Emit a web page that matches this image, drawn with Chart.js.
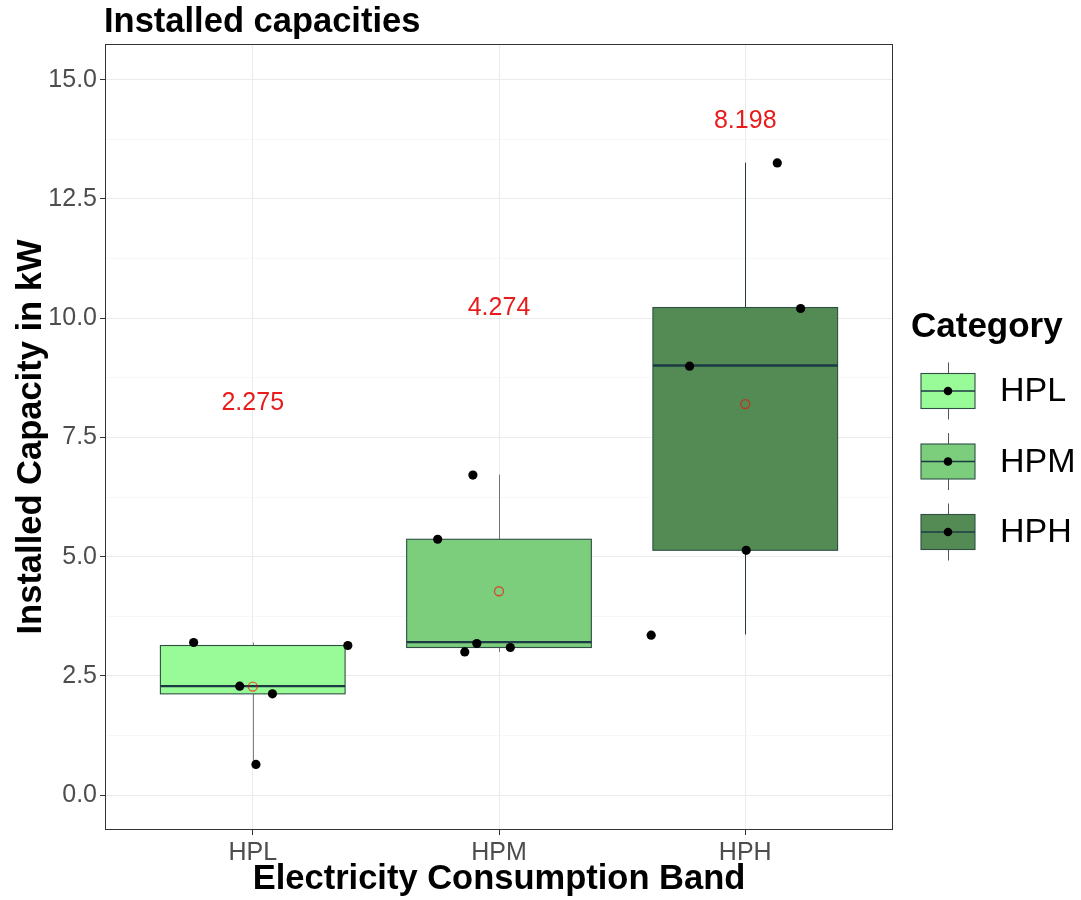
<!DOCTYPE html>
<html>
<head>
<meta charset="utf-8">
<title>Installed capacities</title>
<script src="https://cdn.jsdelivr.net/npm/chart.js@4.4.1/dist/chart.umd.min.js"></script>
<style>
  html, body { margin: 0; padding: 0; background: #fff; }
  #chart { display: block; }
</style>
</head>
<body>
<canvas id="chart" width="1081" height="900"></canvas>
<script>
// categories and box statistics
const categories = ['HPL', 'HPM', 'HPH'];
const q1 = [2.122, 3.094, 5.133];
const medians = [2.284, 3.206, 9.009];
const q3 = [3.136, 5.364, 10.224];
const whiskerLow = [0.643, 3.002, 3.367];
const whiskerHigh = [3.199, 6.719, 13.26];
const means = [2.275, 4.274, 8.198];

// jittered observations: x is the jittered category position, y the value
const hplX = [0.760, 0.947, 1.080, 1.386, 1.013];
const hplY = [3.199, 2.284, 2.122, 3.136, 0.643];
const hpmX = [1.894, 1.751, 1.910, 1.861, 2.046];
const hpmY = [6.711, 5.364, 3.178, 3.002, 3.094];
const hphX = [3.130, 3.225, 2.774, 3.004, 2.618];
const hphY = [13.256, 10.203, 8.994, 5.133, 3.352];

// axis ticks
const yTicks = [0, 2.5, 5, 7.5, 10, 12.5, 15];
const yMinorTicks = [1.25, 3.75, 6.25, 8.75, 11.25, 13.75];

// styles
const FONT = '"Liberation Sans", Arial, sans-serif';
const fillColors = ['#98FB98', '#7CCD7C', '#548B54'];
const whiskerColors = ['#7b8282', '#6f7676', '#2b3b33'];
const boxBorder = '#2f4f45';
const medianColor = '#1c3a44';
const BOX_W = 0.75;

Chart.defaults.font.family = FONT;

const obsPoints = [];
[[hplX, hplY], [hpmX, hpmY], [hphX, hphY]].forEach(([xs, ys]) => {
    xs.forEach((xv, i) => obsPoints.push({ x: xv, y: ys[i] }));
});
const meanPoints = means.map((m, i) => ({ x: i + 1, y: m }));

function isMajor(v) {
    return yTicks.some(t => Math.abs(t - v) < 1e-9);
}

function line(ctx, x1, y1, x2, y2) {
    ctx.beginPath();
    ctx.moveTo(x1, y1);
    ctx.lineTo(x2, y2);
    ctx.stroke();
}

const boxPlugin = {
    id: 'boxes',
    beforeDatasetsDraw(chart) {
        const { ctx, scales: { x, y } } = chart;
        categories.forEach((c, i) => {
            const cx = Math.round(x.getPixelForValue(i + 1)) + 0.5;
            const left = x.getPixelForValue(i + 1 - BOX_W / 2);
            const right = x.getPixelForValue(i + 1 + BOX_W / 2);
            const yQ1 = y.getPixelForValue(q1[i]);
            const yQ3 = y.getPixelForValue(q3[i]);
            const yMed = y.getPixelForValue(medians[i]);
            ctx.save();
            ctx.strokeStyle = whiskerColors[i];
            ctx.lineWidth = 1;
            line(ctx, cx, y.getPixelForValue(whiskerHigh[i]), cx, yQ3);
            line(ctx, cx, yQ1, cx, y.getPixelForValue(whiskerLow[i]));
            ctx.fillStyle = fillColors[i];
            ctx.fillRect(left, yQ3, right - left, yQ1 - yQ3);
            ctx.strokeStyle = boxBorder;
            ctx.lineWidth = 1.1;
            ctx.strokeRect(left, yQ3, right - left, yQ1 - yQ3);
            ctx.strokeStyle = medianColor;
            ctx.lineWidth = 2.4;
            line(ctx, left, yMed, right, yMed);
            ctx.restore();
        });
    },
    afterDatasetsDraw(chart) {
        const { ctx, chartArea, scales: { x, y } } = chart;
        ctx.save();
        // mean labels
        ctx.fillStyle = '#e81c1c';
        ctx.font = '25px ' + FONT;
        ctx.textAlign = 'center';
        ctx.textBaseline = 'middle';
        means.forEach((m, i) => {
            ctx.fillText(m.toFixed(3), x.getPixelForValue(i + 1), y.getPixelForValue(m + 5.94));
        });
        // panel border
        ctx.strokeStyle = '#333333';
        ctx.lineWidth = 1;
        ctx.strokeRect(Math.round(chartArea.left) + 0.5, Math.round(chartArea.top) + 0.5,
            Math.round(chartArea.right - chartArea.left) - 1, Math.round(chartArea.bottom - chartArea.top) - 1);
        ctx.restore();
    },
    afterDraw(chart) {
        const { ctx, chartArea } = chart;
        ctx.save();
        // title
        ctx.fillStyle = '#000';
        ctx.font = 'bold 34.5px ' + FONT;
        ctx.textAlign = 'left';
        ctx.textBaseline = 'alphabetic';
        ctx.fillText('Installed capacities', chartArea.left - 1, 32);

        // legend
        const lx = chartArea.right + 18;
        ctx.font = 'bold 35px ' + FONT;
        ctx.fillText('Category', lx, 337);
        const keyLeft = chartArea.right + 28;
        const keyW = 54, keyH = 35;
        categories.forEach((c, i) => {
            const cy = 391 + i * 70.5;
            const kx = keyLeft + keyW / 2;
            ctx.strokeStyle = '#555';
            ctx.lineWidth = 1;
            line(ctx, Math.round(kx) + 0.5, cy - keyH / 2 - 11, Math.round(kx) + 0.5, cy + keyH / 2 + 11);
            ctx.fillStyle = fillColors[i];
            ctx.fillRect(keyLeft, cy - keyH / 2, keyW, keyH);
            ctx.strokeStyle = boxBorder;
            ctx.lineWidth = 1.1;
            ctx.strokeRect(keyLeft, cy - keyH / 2, keyW, keyH);
            ctx.strokeStyle = medianColor;
            ctx.lineWidth = 1.6;
            line(ctx, keyLeft, cy, keyLeft + keyW, cy);
            ctx.fillStyle = '#000';
            ctx.beginPath();
            ctx.arc(kx, cy, 4.3, 0, Math.PI * 2);
            ctx.fill();
            ctx.font = '34px ' + FONT;
            ctx.textBaseline = 'middle';
            ctx.fillText(c, chartArea.right + 107, cy + 1);
            ctx.textBaseline = 'alphabetic';
        });
        ctx.restore();
    }
};

new Chart(document.getElementById('chart'), {
    type: 'scatter',
    data: {
        datasets: [
            {
                label: 'observations',
                data: obsPoints,
                pointRadius: 4.6,
                backgroundColor: '#000',
                borderWidth: 0
            },
            {
                label: 'mean',
                data: meanPoints,
                pointRadius: 4.5,
                backgroundColor: 'rgba(0,0,0,0)',
                borderColor: 'rgba(255,0,0,0.62)',
                borderWidth: 1.3
            }
        ]
    },
    options: {
        responsive: false,
        animation: false,
        devicePixelRatio: 1,
        events: [],
        layout: { padding: { top: 44, right: 188, left: 0, bottom: 0 } },
        plugins: {
            legend: { display: false },
            title: { display: false },
            tooltip: { enabled: false }
        },
        scales: {
            x: {
                type: 'linear',
                min: 0.4,
                max: 3.6,
                bounds: 'data',
                afterBuildTicks: s => { s.ticks = categories.map((c, i) => ({ value: i + 1 })); },
                afterFit: s => { s.height = 70; },
                ticks: {
                    autoSkip: false,
                    maxRotation: 0,
                    padding: 3,
                    color: '#4d4d4d',
                    font: { size: 25 },
                    callback: v => categories[Math.round(v) - 1]
                },
                grid: { color: '#ebebeb', lineWidth: 1, tickColor: '#333', tickLength: 5 },
                border: { display: false },
                title: {
                    display: true,
                    text: 'Electricity Consumption Band',
                    color: '#000',
                    font: { size: 34.5, weight: 'bold' },
                    padding: { top: 0, bottom: 0 }
                }
            },
            y: {
                type: 'linear',
                min: -0.733,
                max: 15.75,
                bounds: 'data',
                afterBuildTicks: s => {
                    s.ticks = yTicks.concat(yMinorTicks).sort((a, b) => a - b).map(v => ({ value: v }));
                },
                afterFit: s => { s.width = 105; },
                ticks: {
                    autoSkip: false,
                    padding: 3,
                    color: '#4d4d4d',
                    font: { size: 25 },
                    callback: v => isMajor(v) ? v.toFixed(1) : ''
                },
                grid: {
                    color: c => isMajor(c.tick.value) ? '#ebebeb' : '#f4f4f4',
                    lineWidth: c => isMajor(c.tick.value) ? 1 : 0.7,
                    tickColor: c => isMajor(c.tick.value) ? '#333' : 'rgba(0,0,0,0)',
                    tickLength: 5
                },
                border: { display: false },
                title: {
                    display: true,
                    text: 'Installed Capacity in kW',
                    color: '#000',
                    font: { size: 34.5, weight: 'bold' },
                    padding: { top: 11, bottom: 0 }
                }
            }
        }
    },
    plugins: [boxPlugin]
});
</script>
</body>
</html>
